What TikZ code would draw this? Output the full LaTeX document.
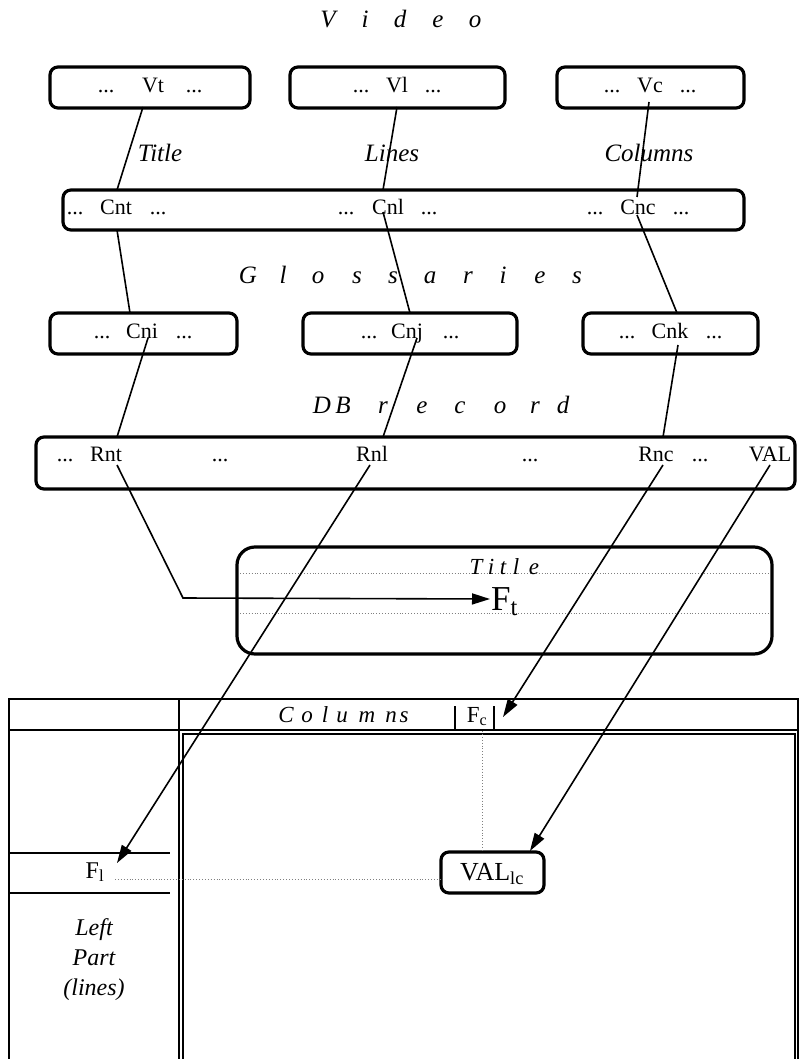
\documentclass[tikz,border=0pt]{standalone}
\usepackage{fontspec}
\setmainfont{Liberation Serif}
\usetikzlibrary{arrows.meta}
\tikzset{
  box/.style={draw, line width=3.2pt, rounded corners=8pt, inner sep=0pt},
  txt/.style={anchor=base, inner sep=0pt, font=\fontsize{22}{26}\selectfont},
  lab/.style={anchor=base, inner sep=0pt, font=\fontsize{25}{30}\selectfont\itshape},
  spaced/.style={anchor=base, inner sep=0pt, font=\fontsize{25}{30}\selectfont\itshape},
  small/.style={anchor=base, inner sep=0pt, font=\fontsize{23}{27}\selectfont\itshape},
  lefttxt/.style={anchor=base, inner sep=0pt, font=\fontsize{24}{30}\selectfont\itshape},
  conn/.style={line width=1.6pt},
  arr/.style={conn, -{Triangle[length=18pt,width=11pt]}},
  dots/.style={gray, line width=0.9pt, dotted},
  grid/.style={line width=2.2pt},
}
\begin{document}
\begin{tikzpicture}[x=1pt,y=-1pt]
\useasboundingbox (0,0) rectangle (800,1059);

% ---- heading "V i d e o"
\foreach \x/\l [count=\i] in {328/V,365/i,400/d,438/e,475/o}
  \node[spaced] (vid\i) at (\x,28) {\l};

% ---- top boxes
\node[box, minimum width=200pt, minimum height=41pt] (bVt) at (150,87.5) {};
\node[box, minimum width=215pt, minimum height=41pt] (bVl) at (397.5,87.5) {};
\node[box, minimum width=187pt, minimum height=41pt] (bVc) at (650.5,87.5) {};
\node[txt] (vt1) at (106,93) {...};
\node[txt] (vt)  at (153,93) {Vt};
\node[txt] (vt2) at (194,93) {...};
\node[txt] (vl1) at (361,93) {...};
\node[txt] (vl)  at (397,93) {Vl};
\node[txt] (vl2) at (433,93) {...};
\node[txt] (vc1) at (612,93) {...};
\node[txt] (vc)  at (650,93) {Vc};
\node[txt] (vc2) at (688,93) {...};

% ---- labels
\node[lab] (lTitle) at (160,162) {Title};
\node[lab] (lLines) at (392,162) {Lines};
\node[lab] (lCols)  at (649,162) {Columns};

% ---- middle box
\node[box, minimum width=681pt, minimum height=40pt] (bCn) at (403.5,210) {};
\node[txt] (cn1) at (75,215) {...};
\node[txt] (cnt) at (116,215) {Cnt};
\node[txt] (cn2) at (158,215) {...};
\node[txt] (cn3) at (346,215) {...};
\node[txt] (cnl) at (388,215) {Cnl};
\node[txt] (cn4) at (429,215) {...};
\node[txt] (cn5) at (595,215) {...};
\node[txt] (cnc) at (638,215) {Cnc};
\node[txt] (cn6) at (681,215) {...};

% ---- heading "G l o s s a r i e s"
\foreach \x/\l [count=\i] in {248/G,283/l,318/o,357/s,393/s,430/a,468/r,503/i,540/e,577/s}
  \node[spaced] (glo\i) at (\x,283) {\l};

% ---- glossary boxes
\node[box, minimum width=187pt, minimum height=41pt] (bCni) at (143.5,333.5) {};
\node[box, minimum width=214pt, minimum height=41pt] (bCnj) at (410,333.5) {};
\node[box, minimum width=175pt, minimum height=41pt] (bCnk) at (670.5,333.5) {};
\node[txt] (ci1) at (102,338) {...};
\node[txt] (cni) at (142,338) {Cni};
\node[txt] (ci2) at (184,338) {...};
\node[txt] (cj1) at (369,338) {...};
\node[txt] (cnj) at (407,338) {Cnj};
\node[txt] (cj2) at (451,338) {...};
\node[txt] (ck1) at (627,338) {...};
\node[txt] (cnk) at (670,338) {Cnk};
\node[txt] (ck2) at (714,338) {...};

% ---- heading "D B r e c o r d"
\foreach \x/\l [count=\i] in {322/D,343/B,383/r,422/e,460/c,500/o,535/r,563/d}
  \node[spaced] (dbr\i) at (\x,413) {\l};

% ---- DB record box
\node[box, minimum width=759pt, minimum height=52pt] (bDB) at (415.5,463) {};
\node[txt] (r1)  at (65,461) {...};
\node[txt] (rnt) at (106,461) {Rnt};
\node[txt] (r2)  at (220,461) {...};
\node[txt] (rnl) at (372,461) {Rnl};
\node[txt] (r3)  at (530,461) {...};
\node[txt] (rnc) at (656,461) {Rnc};
\node[txt] (r4)  at (700,461) {...};
\node[txt] (val) at (770,461) {VAL};

% ---- Title box
\node[box, rounded corners=18pt, minimum width=535pt, minimum height=107pt] (bTitle) at (504.5,600.5) {};
\coordinate (tl1a) at (240,573); \coordinate (tl1b) at (769,573);
\coordinate (tl2a) at (240,613); \coordinate (tl2b) at (769,613);
\draw[dots] (tl1a) -- (tl1b);
\draw[dots] (tl2a) -- (tl2b);
\foreach \x/\l [count=\i] in {476/T,491/i,503/t,516/l,534/e}
  \node[small] (tit\i) at (\x,574) {\l};
\node[anchor=base west, inner sep=0pt, font=\fontsize{35}{40}\selectfont] (Ft) at (491,610) {F\textsubscript{t}};

% ---- bottom table
\coordinate (tA) at (9,1059);   \coordinate (tB) at (9,699);
\coordinate (tC) at (798,699);  \coordinate (tD) at (798,1059);
\draw[grid] (tA) -- (tB) -- (tC) -- (tD);
\coordinate (hL) at (9,730); \coordinate (hR) at (798,730);
\draw[grid] (hL) -- (hR);
\coordinate (vT) at (179,699); \coordinate (vB) at (179,1059);
\draw[grid] (vT) -- (vB);
\coordinate (iA) at (183,1059); \coordinate (iB) at (183,734);
\coordinate (iC) at (795,734);  \coordinate (iD) at (795,1059);
\draw[line width=1.6pt] (iA) -- (iB) -- (iC) -- (iD);

\foreach \x/\l [count=\i] in {286/C,307/o,325/l,342/u,367/m,391/n,404/s}
  \node[small] (col\i) at (\x,722) {\l};
\coordinate (bar1a) at (455,706); \coordinate (bar1b) at (455,731);
\coordinate (bar2a) at (494,706); \coordinate (bar2b) at (494,731);
\draw[line width=1.6pt] (bar1a) -- (bar1b);
\draw[line width=1.6pt] (bar2a) -- (bar2b);
\node[anchor=base, inner sep=0pt, font=\fontsize{23}{27}\selectfont] (Fc) at (477,722) {F\textsubscript{c}};

\coordinate (lr1a) at (9,853); \coordinate (lr1b) at (170,853);
\coordinate (lr2a) at (9,893); \coordinate (lr2b) at (170,893);
\draw[grid] (lr1a) -- (lr1b);
\draw[grid] (lr2a) -- (lr2b);
\node[anchor=base, inner sep=0pt, font=\fontsize{24}{28}\selectfont] (Fl) at (95,878) {F\textsubscript{l}};
\node[lefttxt] (left1) at (94,935) {Left};
\node[lefttxt] (left2) at (94,965) {Part};
\node[lefttxt] (left3) at (94,995) {(lines)};

\node[box, minimum width=103pt, minimum height=41pt] (bVAL) at (492.5,872.5) {};
\node[anchor=base, inner sep=0pt, font=\fontsize{26}{30}\selectfont] (VALlc) at (492,880) {VAL\textsubscript{lc}};

\coordinate (dv1) at (482,731); \coordinate (dv2) at (482,852);
\draw[dots] (dv1) -- (dv2);
\coordinate (dh1) at (115,879); \coordinate (dh2) at (441,879);
\draw[dots] (dh1) -- (dh2);

% ---- connectors
\coordinate (c1a) at (143,107); \coordinate (c1b) at (117,190);
\coordinate (c2a) at (397,107); \coordinate (c2b) at (383,190);
\coordinate (c3a) at (649,102); \coordinate (c3b) at (637,197);
\coordinate (c4a) at (117,230); \coordinate (c4b) at (130,313);
\coordinate (c5a) at (383,212); \coordinate (c5b) at (410,313);
\coordinate (c6a) at (637,215); \coordinate (c6b) at (677,313);
\coordinate (c7a) at (148,338); \coordinate (c7b) at (117,437);
\coordinate (c8a) at (417,338); \coordinate (c8b) at (383,437);
\coordinate (c9a) at (678,345); \coordinate (c9b) at (663,437);
\draw[conn] (c1a) -- (c1b);
\draw[conn] (c2a) -- (c2b);
\draw[conn] (c3a) -- (c3b);
\draw[conn] (c4a) -- (c4b);
\draw[conn] (c5a) -- (c5b);
\draw[conn] (c6a) -- (c6b);
\draw[conn] (c7a) -- (c7b);
\draw[conn] (c8a) -- (c8b);
\draw[conn] (c9a) -- (c9b);

\coordinate (a1a) at (117,465); \coordinate (a1m) at (183,598); \coordinate (a1b) at (490,599);
\coordinate (a2a) at (370,465); \coordinate (a2b) at (117,863);
\coordinate (a3a) at (663,465); \coordinate (a3b) at (503,717);
\coordinate (a4a) at (770,465); \coordinate (a4b) at (530,851);
\draw[arr] (a1a) -- (a1m) -- (a1b);
\draw[arr] (a2a) -- (a2b);
\draw[arr] (a3a) -- (a3b);
\draw[arr] (a4a) -- (a4b);
\end{tikzpicture}
\end{document}
